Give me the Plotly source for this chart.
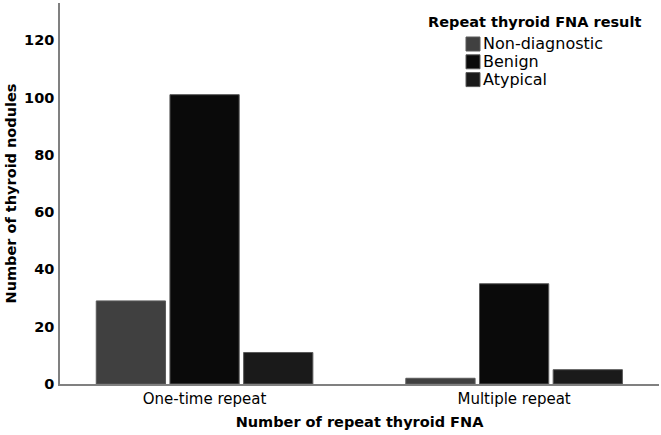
import plotly.graph_objects as go

categories = ["One-time repeat", "Multiple repeat"]
series_names = ["Non-diagnostic", "Benign", "Atypical"]
non_diagnostic = [29, 2]
benign = [101, 35]
atypical = [11, 5]
colors = ["#404040", "#0a0a0a", "#1a1a1a"]
tick_vals = [0, 20, 40, 60, 80, 100, 120]
legend_title = "Repeat thyroid FNA result"

FONT = "DejaVu Sans"

# plot area in pixels (for placing the legend box)
W, H = 661, 435
ML, MR, MT, MB = 60, 2, 3, 51
PW, PH = W - ML - MR, H - MT - MB


def px_x(p):
    return (p - ML) / PW


def px_y(p):
    return 1 - (p - MT) / PH


fig = go.Figure()
for name, vals, col in zip(series_names, [non_diagnostic, benign, atypical], colors):
    fig.add_trace(go.Bar(
        x=list(range(len(categories))), y=vals, name=name, showlegend=False,
        marker=dict(color=col, line=dict(color="#5a5a5a", width=1)),
    ))

# legend (title + swatches + labels)
fig.add_annotation(
    text=f"<b>{legend_title}</b>", xref="paper", yref="paper",
    x=px_x(534), y=px_y(22), xanchor="center", yanchor="middle", showarrow=False,
    font=dict(family=FONT, size=14.5, color="black"),
)
for i, (name, col) in enumerate(zip(series_names, colors)):
    cy = 44 + i * 17.8
    fig.add_shape(
        type="rect", xref="paper", yref="paper",
        x0=px_x(466), x1=px_x(480), y0=px_y(cy + 7), y1=px_y(cy - 7),
        fillcolor=col, line=dict(color="#5a5a5a", width=1),
    )
    fig.add_annotation(
        text=name, xref="paper", yref="paper",
        x=px_x(481), y=px_y(cy), xanchor="left", yanchor="middle",
        showarrow=False, font=dict(family=FONT, size=16, color="black"),
    )

fig.update_layout(
    width=W, height=H,
    margin=dict(l=ML, r=MR, t=MT, b=MB),
    plot_bgcolor="white", paper_bgcolor="white",
    barmode="group", bargap=0.286, bargroupgap=0.06,
    font=dict(family=FONT, color="black", size=14),
    showlegend=False,
    xaxis=dict(
        range=[-0.467, 1.468], tickvals=[0, 1], ticktext=categories,
        showline=True, linecolor="#808080", linewidth=1.5, ticks="",
        showgrid=False, zeroline=False, ticklabelstandoff=0,
        tickfont=dict(family=FONT, size=15, color="black"),
        title=dict(text="<b>Number of repeat thyroid FNA</b>", standoff=10,
                   font=dict(family=FONT, size=14.5, color="black")),
    ),
    yaxis=dict(
        range=[0, 133], tickvals=tick_vals,
        ticktext=[f"<b>{v}</b>" for v in tick_vals],
        showline=True, linecolor="#808080", linewidth=1.5, ticks="",
        showgrid=False, zeroline=False, ticklabelstandoff=1,
        tickfont=dict(family=FONT, size=14.5, color="black"),
        title=dict(text="<b>Number of thyroid nodules</b>", standoff=4,
                   font=dict(family=FONT, size=14.5, color="black")),
    ),
)

fig.write_html("out.html", config={"displayModeBar": False},
               post_script="document.body.style.margin='0';")
